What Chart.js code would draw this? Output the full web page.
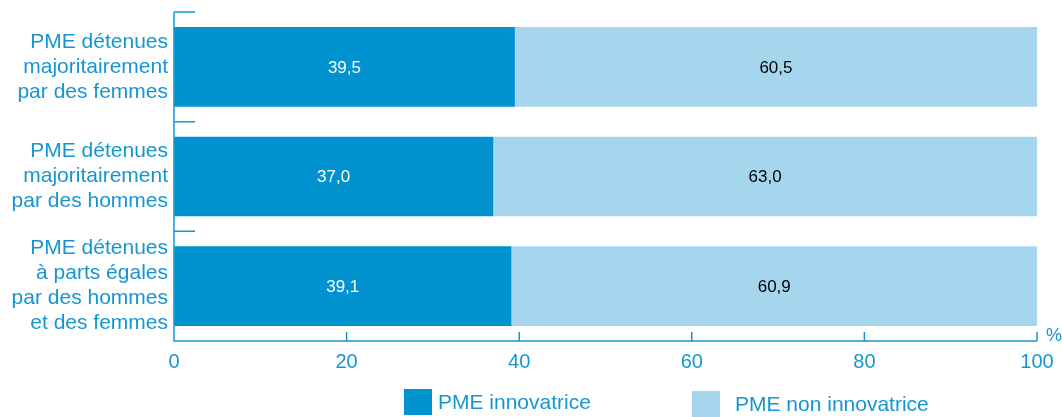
<!DOCTYPE html>
<html>
<head>
<meta charset="utf-8">
<script src="https://cdn.jsdelivr.net/npm/chart.js@4/dist/chart.umd.min.js"></script>
<style>
  html, body { margin: 0; padding: 0; background: #fff; }
  #wrap { position: relative; width: 1062px; height: 417px; }
  canvas { position: absolute; left: 0; top: 0; }
  .leg { position: absolute; font-family: "Liberation Sans", Arial, sans-serif; font-size: 21px; color: #1596d2; white-space: nowrap; }
  .leg .sw { position: absolute; width: 28px; height: 26px; }
</style>
</head>
<body>
<div id="wrap">
  <canvas id="c" width="1062" height="417"></canvas>
  <div class="leg" style="left:404px; top:389px;"><div class="sw" style="left:0; top:0; background:#0093d0;"></div><span style="position:absolute; left:34px; top:1px;">PME innovatrice</span></div>
  <div class="leg" style="left:692px; top:391px;"><div class="sw" style="left:0; top:0; background:#a6d5ee;"></div><span style="position:absolute; left:43px; top:1px;">PME non innovatrice</span></div>
</div>
<script>
const categories = [
  ["PME détenues", "majoritairement", "par des femmes"],
  ["PME détenues", "majoritairement", "par des hommes"],
  ["PME détenues", "à parts égales", "par des hommes", "et des femmes"]
];
const innovatrice = [39.5, 37.0, 39.1];
const nonInnovatrice = [60.5, 63.0, 60.9];
const seriesNames = ["PME innovatrice", "PME non innovatrice"];
const xTicks = [0, 20, 40, 60, 80, 100];

const BLUE = '#1596d2';
const FONT = '"Liberation Sans", Arial, sans-serif';

const axesPlugin = {
  id: 'axesPlugin',
  afterDraw(chart) {
    const ctx = chart.ctx;
    const a = chart.chartArea;
    const y = chart.scales.y;
    const x = chart.scales.x;
    ctx.save();
    ctx.strokeStyle = BLUE;
    ctx.lineWidth = 1.5;
    ctx.beginPath();
    ctx.moveTo(a.left, a.top);
    ctx.lineTo(a.left, a.bottom);
    ctx.lineTo(a.right, a.bottom);
    const n = categories.length;
    for (let i = 0; i <= n; i++) {
      let py;
      if (i === 0) py = a.top;
      else if (i === n) py = a.bottom;
      else py = (y.getPixelForValue(i - 1) + y.getPixelForValue(i)) / 2;
      ctx.moveTo(a.left, py);
      ctx.lineTo(a.left + 21, py);
    }
    xTicks.forEach(v => {
      if (v === 0) return;
      const px = x.getPixelForValue(v);
      ctx.moveTo(px, a.bottom);
      ctx.lineTo(px, a.bottom - 9);
    });
    ctx.stroke();
    ctx.fillStyle = BLUE;
    ctx.font = '18px ' + FONT;
    ctx.textAlign = 'left';
    ctx.textBaseline = 'middle';
    ctx.fillText('%', a.right + 9, a.bottom - 5);
    ctx.font = '17px ' + FONT;
    ctx.textAlign = 'center';
    chart.data.datasets.forEach((ds, di) => {
      const meta = chart.getDatasetMeta(di);
      meta.data.forEach((bar, i) => {
        const cx = (bar.x + bar.base) / 2;
        ctx.fillStyle = di === 0 ? '#ffffff' : '#000000';
        ctx.fillText(ds.data[i].toFixed(1).replace('.', ','), cx, bar.y + 1);
      });
    });
    ctx.restore();
  }
};

new Chart(document.getElementById('c'), {
  type: 'bar',
  data: {
    labels: categories,
    datasets: [
      { label: seriesNames[0], data: innovatrice, backgroundColor: '#0093d0', borderWidth: 0, barPercentage: 0.727, categoryPercentage: 1 },
      { label: seriesNames[1], data: nonInnovatrice, backgroundColor: '#a6d5ee', borderWidth: 0, barPercentage: 0.727, categoryPercentage: 1 }
    ]
  },
  options: {
    indexAxis: 'y',
    responsive: false,
    animation: false,
    layout: { padding: { top: 12, right: 25, left: 0, bottom: 0 } },
    plugins: { legend: { display: false }, tooltip: { enabled: false } },
    scales: {
      x: {
        stacked: true, min: 0, max: 100,
        afterBuildTicks(scale) { scale.ticks = xTicks.map(v => ({ value: v })); },
        afterFit(scale) { scale.height = 76; scale.paddingLeft = 0; scale.paddingRight = 0; },
        grid: { display: false, drawTicks: false },
        border: { display: false },
        ticks: { color: BLUE, font: { family: FONT, size: 20 }, padding: 9, maxRotation: 0, autoSkip: false }
      },
      y: {
        stacked: true,
        afterFit(scale) { scale.width = 174; scale.paddingTop = 0; scale.paddingBottom = 0; },
        grid: { display: false, drawTicks: false },
        border: { display: false },
        ticks: { color: BLUE, font: { family: FONT, size: 21, lineHeight: 1.19 }, padding: 6, autoSkip: false }
      }
    }
  },
  plugins: [axesPlugin]
});
</script>
</body>
</html>
